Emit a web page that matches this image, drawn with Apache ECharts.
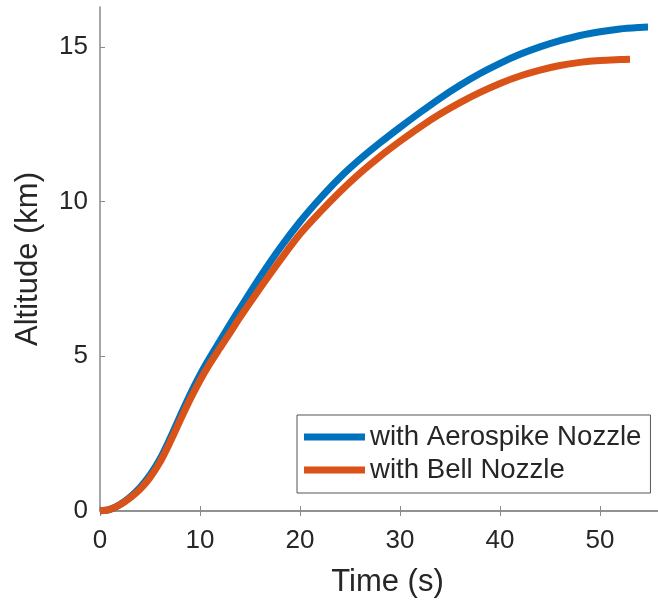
<!DOCTYPE html>
<html>
<head>
<meta charset="utf-8">
<script src="https://cdn.jsdelivr.net/npm/echarts@6/dist/echarts.min.js"></script>
<style>
html,body{margin:0;padding:0;background:#fff;overflow:hidden;}
#chart{width:658px;height:603px;}
</style>
</head>
<body>
<div id="chart"></div>
<script>
// Data
var timeAero = [0,1,2,3,4,5,6,7,8,9,10,11,12,13,14,16,18,20,22,24,26,28,30,32,34,36,38,40,42,44,46,48,50,52,54,54.8];
var altAero  = [0,0.05,0.21,0.45,0.76,1.16,1.68,2.34,3.06,3.76,4.4,4.97,5.5,6.03,6.55,7.56,8.5,9.35,10.1,10.78,11.37,11.9,12.4,12.88,13.34,13.76,14.14,14.47,14.76,15.0,15.2,15.37,15.49,15.58,15.63,15.64];
var timeBell = [0,1,2,3,4,5,6,7,8,9,10,11,12,13,14,16,18,20,22,24,26,28,30,32,34,36,38,40,42,44,46,48,50,52,53];
var altBell  = [0,0.05,0.2,0.42,0.7,1.08,1.58,2.22,2.92,3.6,4.22,4.77,5.27,5.76,6.26,7.2,8.1,8.95,9.66,10.32,10.92,11.46,11.95,12.41,12.83,13.2,13.53,13.82,14.06,14.25,14.4,14.5,14.56,14.59,14.6];
var seriesNames = ['with Aerospike Nozzle', 'with Bell Nozzle'];
var xTickInterval = 10;
var yTickInterval = 5;
var xName = 'Time (s)';
var yName = 'Altitude (km)';

function pairs(t, v){ return t.map(function(x,i){ return [x, v[i]]; }); }

var FONT = '"Liberation Sans", Arial, sans-serif';
var AXIS_COLOR = '#8a8a8a';
var TEXT_COLOR = '#262626';

var chart = echarts.init(document.getElementById('chart'), null, {renderer:'canvas'});
chart.setOption({
  animation: false,
  backgroundColor: '#ffffff',
  grid: {left: 100, top: 7, right: 0, bottom: 91, containLabel: false},
  legend: {
    orient: 'vertical',
    left: 297, top: 415,
    data: seriesNames,
    icon: 'rect',
    itemWidth: 61, itemHeight: 7, itemGap: 5,
    padding: [8, 9, 9, 7],
    borderColor: '#555555', borderWidth: 1,
    backgroundColor: '#ffffff',
    textStyle: {fontFamily: FONT, fontSize: 27.6, lineHeight: 27, color: TEXT_COLOR}
  },
  xAxis: [{
    type: 'value', min: 0, max: 55.8, interval: xTickInterval,
    name: xName, nameLocation: 'middle', nameGap: 56,
    nameTextStyle: {fontFamily: FONT, fontSize: 31, color: TEXT_COLOR, padding: [0,0,0,17]},
    axisLine: {show: true, onZero: false, lineStyle: {color: AXIS_COLOR, width: 1.5}},
    axisTick: {show: true, inside: true, length: 5, lineStyle: {color: AXIS_COLOR}},
    axisLabel: {fontFamily: FONT, fontSize: 26, color: TEXT_COLOR, margin: 17, showMaxLabel: false},
    splitLine: {show: false}
  }, {
    type: 'value', position: 'top', min: 0, max: 55.8, interval: xTickInterval,
    axisLine: {show: true, lineStyle: {color: AXIS_COLOR, width: 1.5}},
    axisTick: {show: true, inside: true, length: 5, lineStyle: {color: AXIS_COLOR}},
    axisLabel: {show: false},
    splitLine: {show: false}
  }],
  yAxis: [{
    type: 'value', min: 0, max: 16.29, interval: yTickInterval,
    name: yName, nameLocation: 'middle', nameGap: 56,
    nameTextStyle: {fontFamily: FONT, fontSize: 31, color: TEXT_COLOR},
    axisLine: {show: true, lineStyle: {color: AXIS_COLOR, width: 1.5}},
    axisTick: {show: true, inside: true, length: 5, lineStyle: {color: AXIS_COLOR}},
    axisLabel: {fontFamily: FONT, fontSize: 26, color: TEXT_COLOR, margin: 12, showMaxLabel: false},
    splitLine: {show: false}
  }],
  series: [{
    name: seriesNames[0], type: 'line', data: pairs(timeAero, altAero),
    showSymbol: false, smooth: 0.3, color: '#0072BD',
    lineStyle: {width: 7, color: '#0072BD', cap: 'butt'}
  }, {
    name: seriesNames[1], type: 'line', data: pairs(timeBell, altBell),
    showSymbol: false, smooth: 0.3, color: '#D95319',
    lineStyle: {width: 7, color: '#D95319', cap: 'butt'}
  }]
});
</script>
</body>
</html>
